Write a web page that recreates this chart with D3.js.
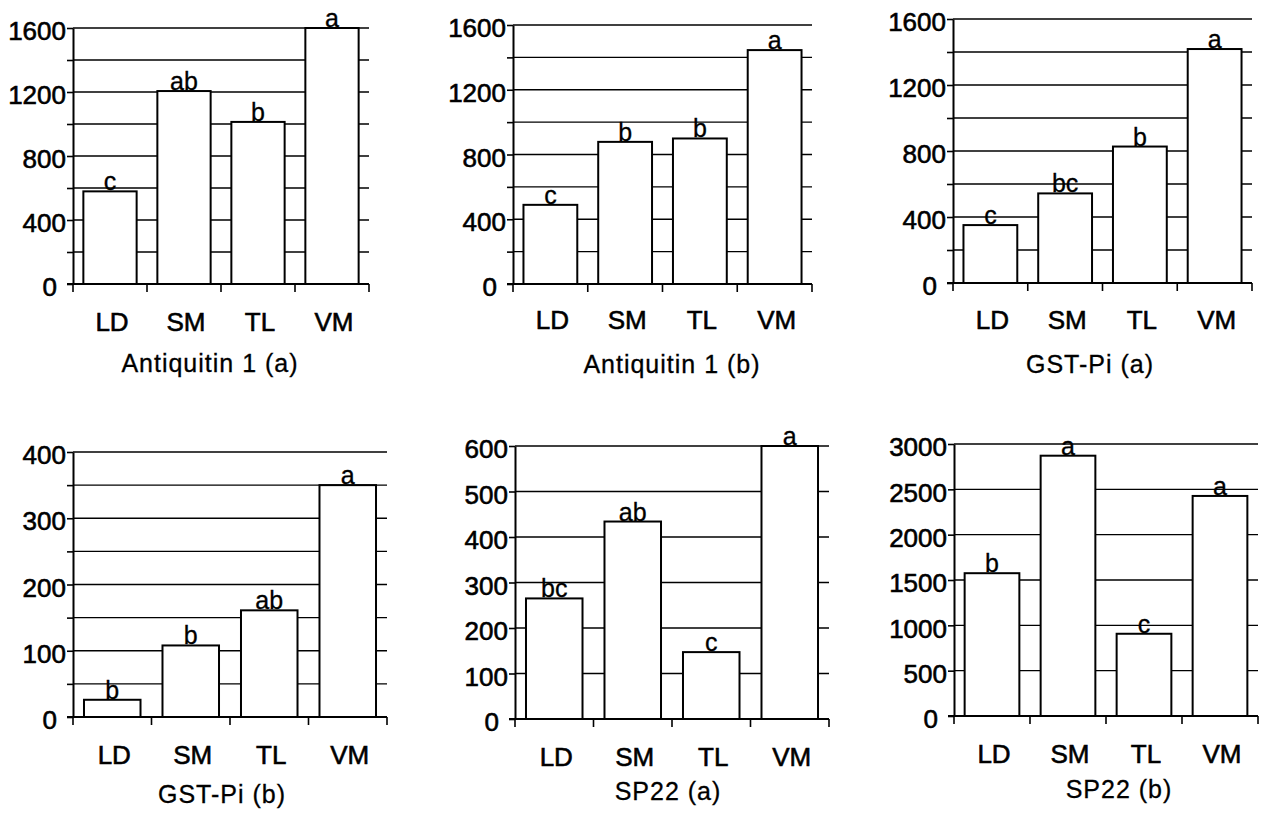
<!DOCTYPE html>
<html>
<head>
<meta charset="utf-8">
<script src="https://cdn.jsdelivr.net/npm/d3@7/dist/d3.min.js"></script>
<style>
  html, body { margin: 0; padding: 0; background: #fff; }
  svg { display: block; }
  text { font-family: "Liberation Sans", Arial, Helvetica, sans-serif; fill: #000; }
</style>
</head>
<body>
<svg id="chart" width="1267" height="814"></svg>
<script>
// ---------------- data ----------------
const categories = ["LD", "SM", "TL", "VM"];

const antiquitin1A = [579, 1206, 1013, 1600];
const antiquitin1B = [489, 878, 899, 1445];
const gstPiA       = [351, 543, 827, 1418];
const gstPiB       = [26, 108, 161, 350];
const sp22A        = [265, 434, 147, 600];
const sp22B        = [1575, 2871, 907, 2427];

const lettersAntiquitin1A = ["c", "ab", "b", "a"];
const lettersAntiquitin1B = ["c", "b", "b", "a"];
const lettersGstPiA       = ["c", "bc", "b", "a"];
const lettersGstPiB       = ["b", "b", "ab", "a"];
const lettersSp22A        = ["bc", "ab", "c", "a"];
const lettersSp22B        = ["b", "a", "c", "a"];

const ticks1600 = [0, 400, 800, 1200, 1600];
const grid1600  = [0, 200, 400, 600, 800, 1000, 1200, 1400, 1600];
const ticks400  = [0, 100, 200, 300, 400];
const grid400   = [0, 50, 100, 150, 200, 250, 300, 350, 400];
const ticks600  = [0, 100, 200, 300, 400, 500, 600];
const ticks3000 = [0, 500, 1000, 1500, 2000, 2500, 3000];

const titles = ["Antiquitin 1 (a)", "Antiquitin 1 (b)", "GST-Pi (a)", "GST-Pi (b)", "SP22 (a)", "SP22 (b)"];

// ---------------- layout (positions only) ----------------
const layout = [
  { left: 73,  right: 369,  top: 28,  bottom: 284, titleX: 210,  titleY: 372, catY: 331 },
  { left: 513, right: 812,  top: 25,  bottom: 284, titleX: 672,  titleY: 373, catY: 329 },
  { left: 953, right: 1252, top: 19,  bottom: 283, titleX: 1090, titleY: 373, catY: 329 },
  { left: 73,  right: 387,  top: 452, bottom: 717, titleX: 222,  titleY: 803, catY: 764 },
  { left: 515, right: 829,  top: 446, bottom: 719, titleX: 668,  titleY: 800, catY: 766 },
  { left: 954, right: 1258, top: 444, bottom: 716, titleX: 1119, titleY: 798, catY: 763 }
];

const panels = [
  { values: antiquitin1A, letters: lettersAntiquitin1A, ticks: ticks1600, grid: grid1600 },
  { values: antiquitin1B, letters: lettersAntiquitin1B, ticks: ticks1600, grid: grid1600 },
  { values: gstPiA,       letters: lettersGstPiA,       ticks: ticks1600, grid: grid1600 },
  { values: gstPiB,       letters: lettersGstPiB,       ticks: ticks400,  grid: grid400 },
  { values: sp22A,        letters: lettersSp22A,        ticks: ticks600,  grid: ticks600 },
  { values: sp22B,        letters: lettersSp22B,        ticks: ticks3000, grid: ticks3000 }
];

const svg = d3.select("#chart");

panels.forEach((p, i) => {
  const L = layout[i];
  const g = svg.append("g");
  const yMax = d3.max(p.ticks);

  const y = d3.scaleLinear().domain([0, yMax]).range([L.bottom, L.top]);
  const x = d3.scaleBand().domain(categories).range([L.left, L.right])
    .paddingInner(0.28).paddingOuter(0.14);
  const step = x.step();

  // gridlines
  g.selectAll("line.grid").data(p.grid).enter().append("line")
    .attr("x1", L.left).attr("x2", L.right)
    .attr("y1", d => y(d)).attr("y2", d => y(d))
    .attr("stroke", "#000").attr("stroke-width", 1.4);

  // y axis via d3 axis (ticks at every grid value)
  const yAxis = d3.axisLeft(y).tickValues(p.grid).tickSize(6).tickSizeOuter(0)
    .tickFormat(d => p.ticks.includes(d) ? String(d) : "");
  const ya = g.append("g").attr("transform", `translate(${L.left},0)`).call(yAxis);
  ya.attr("font-size", null).attr("font-family", null);
  ya.select(".domain").attr("stroke", "#000").attr("stroke-width", 2);
  ya.selectAll(".tick line").attr("stroke", "#000").attr("stroke-width", 1.6);
  ya.selectAll(".tick text")
    .attr("font-size", 26)
    .attr("fill", "#000")
    .attr("stroke", "#000").attr("stroke-width", 0.6)
    .attr("x", d => d === 0 ? -16 : -7)
    .attr("dy", "0.45em");

  // bars
  g.selectAll("rect.bar").data(p.values).enter().append("rect")
    .attr("x", (d, j) => x(categories[j]))
    .attr("y", d => y(d))
    .attr("width", x.bandwidth())
    .attr("height", d => L.bottom - y(d))
    .attr("fill", "#fff").attr("stroke", "#000").attr("stroke-width", 2);

  // x axis line
  g.append("line")
    .attr("x1", L.left - 6).attr("x2", L.right)
    .attr("y1", L.bottom).attr("y2", L.bottom)
    .attr("stroke", "#000").attr("stroke-width", 2);

  // x category ticks (band boundaries)
  const bounds = categories.map(c => x(c) - x.paddingInner() * step / 2).concat([L.right]);
  g.selectAll("line.xt").data(bounds).enter().append("line")
    .attr("x1", d => d).attr("x2", d => d)
    .attr("y1", L.bottom).attr("y2", L.bottom + 8)
    .attr("stroke", "#000").attr("stroke-width", 1.6);

  // category labels
  g.selectAll("text.cat").data(categories).enter().append("text")
    .attr("x", c => x(c) + x.bandwidth() / 2 + 2)
    .attr("y", L.catY)
    .attr("text-anchor", "middle")
    .attr("font-size", 26)
    .attr("stroke", "#000").attr("stroke-width", 0.6)
    .text(c => c);

  // significance letters
  g.selectAll("text.sig").data(p.values).enter().append("text")
    .attr("x", (d, j) => x(categories[j]) + x.bandwidth() / 2)
    .attr("y", d => y(d) - 1)
    .attr("text-anchor", "middle")
    .attr("font-size", 25)
    .attr("stroke", "#000").attr("stroke-width", 0.3)
    .text((d, j) => p.letters[j]);

  // title
  g.append("text")
    .attr("x", L.titleX).attr("y", L.titleY)
    .attr("text-anchor", "middle")
    .attr("font-size", 25)
    .attr("letter-spacing", 1)
    .attr("stroke", "#000").attr("stroke-width", 0.3)
    .text(titles[i]);
});
</script>
</body>
</html>
